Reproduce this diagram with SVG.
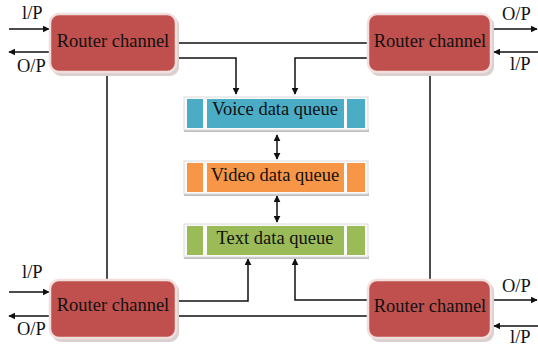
<svg xmlns="http://www.w3.org/2000/svg" width="538" height="347" viewBox="0 0 538 347">
<style>
text{font-family:"Liberation Serif","Times New Roman",serif;font-size:18.5px;fill:#111}
.c{text-anchor:middle}
.router rect.sh{fill:#d9d0d0}
.router rect.b{fill:#c0504d;stroke:#f3dede;stroke-width:2.5}
.q rect.o{fill:#fafafa;stroke:#dcdcdc;stroke-width:1}
.q rect.s{fill:#bfbfbf}
.ln{fill:none;stroke:#111;stroke-width:1.5}
</style>
<defs>
<marker id="ah" viewBox="0 0 10 10" refX="9" refY="5" markerWidth="7" markerHeight="7" orient="auto-start-reverse" markerUnits="userSpaceOnUse">
<path d="M0,0 L10,5 L0,10 z" fill="#111"/>
</marker>
</defs>
<rect width="538" height="347" fill="#fff"/>
<g id="connectors">
<path class="ln" d="M9,29 H49" marker-end="url(#ah)"/>
<path class="ln" d="M50,52 H9" marker-end="url(#ah)"/>
<path class="ln" d="M177,43 H368"/>
<path class="ln" d="M177,58 H236 V94" marker-end="url(#ah)"/>
<path class="ln" d="M368,58 H295 V94" marker-end="url(#ah)"/>
<path class="ln" d="M492,29 H537" marker-end="url(#ah)"/>
<path class="ln" d="M538,52 H494" marker-end="url(#ah)"/>
<path class="ln" d="M107,76 V280"/>
<path class="ln" d="M430,76 V280"/>
<path class="ln" d="M277,135 V159" marker-start="url(#ah)" marker-end="url(#ah)"/>
<path class="ln" d="M277,196 V222" marker-start="url(#ah)" marker-end="url(#ah)"/>
<path class="ln" d="M177,301 H248 V259" marker-end="url(#ah)"/>
<path class="ln" d="M368,300 H295 V259" marker-end="url(#ah)"/>
<path class="ln" d="M177,316 H368"/>
<path class="ln" d="M9,292 H49" marker-end="url(#ah)"/>
<path class="ln" d="M50,316 H9" marker-end="url(#ah)"/>
<path class="ln" d="M492,300 H537" marker-end="url(#ah)"/>
<path class="ln" d="M538,326 H494" marker-end="url(#ah)"/>
</g>
<g id="router-tl" class="router">
<rect class="sh" x="52" y="16" width="127" height="60" rx="9"/>
<rect class="b" x="50" y="14" width="126" height="58" rx="9"/>
<text class="c" x="113" y="47">Router channel</text>
</g>
<g id="router-tr" class="router">
<rect class="sh" x="370" y="16" width="124" height="60" rx="9"/>
<rect class="b" x="368" y="14" width="123" height="58" rx="9"/>
<text class="c" x="430" y="47">Router channel</text>
</g>
<g id="router-bl" class="router">
<rect class="sh" x="52" y="282" width="127" height="60" rx="9"/>
<rect class="b" x="50" y="280" width="126" height="58" rx="9"/>
<text class="c" x="113" y="311">Router channel</text>
</g>
<g id="router-br" class="router">
<rect class="sh" x="370" y="282" width="124" height="60" rx="9"/>
<rect class="b" x="368" y="280" width="123" height="58" rx="9"/>
<text class="c" x="430" y="312">Router channel</text>
</g>
<g id="queue-voice" class="q">
<rect class="s" x="184" y="129" width="185" height="3"/>
<rect class="o" x="184" y="97" width="184" height="33"/>
<rect x="187" y="99" width="16" height="29" fill="#4bacc6"/>
<rect x="207" y="99" width="137" height="29" fill="#4bacc6"/>
<rect x="347" y="99" width="18" height="29" fill="#4bacc6"/>
<text class="c" x="275" y="115">Voice data queue</text>
</g>
<g id="queue-video" class="q">
<rect class="s" x="184" y="193" width="185" height="3"/>
<rect class="o" x="184" y="161" width="184" height="33"/>
<rect x="187" y="163" width="16" height="29" fill="#f79646"/>
<rect x="207" y="163" width="137" height="29" fill="#f79646"/>
<rect x="347" y="163" width="18" height="29" fill="#f79646"/>
<text class="c" x="275" y="181">Video data queue</text>
</g>
<g id="queue-text" class="q">
<rect class="s" x="184" y="256" width="185" height="3"/>
<rect class="o" x="184" y="224" width="184" height="33"/>
<rect x="187" y="226" width="16" height="29" fill="#9bbb59"/>
<rect x="207" y="226" width="137" height="29" fill="#9bbb59"/>
<rect x="347" y="226" width="18" height="29" fill="#9bbb59"/>
<text class="c" x="275" y="244">Text data queue</text>
</g>
<g id="labels">
<text x="22" y="19">l/P</text>
<text x="17" y="72">O/P</text>
<text x="502" y="20">O/P</text>
<text x="510" y="70">l/P</text>
<text x="22" y="278">l/P</text>
<text x="17" y="335">O/P</text>
<text x="502" y="292">O/P</text>
<text x="510" y="343">l/P</text>
</g>
</svg>
